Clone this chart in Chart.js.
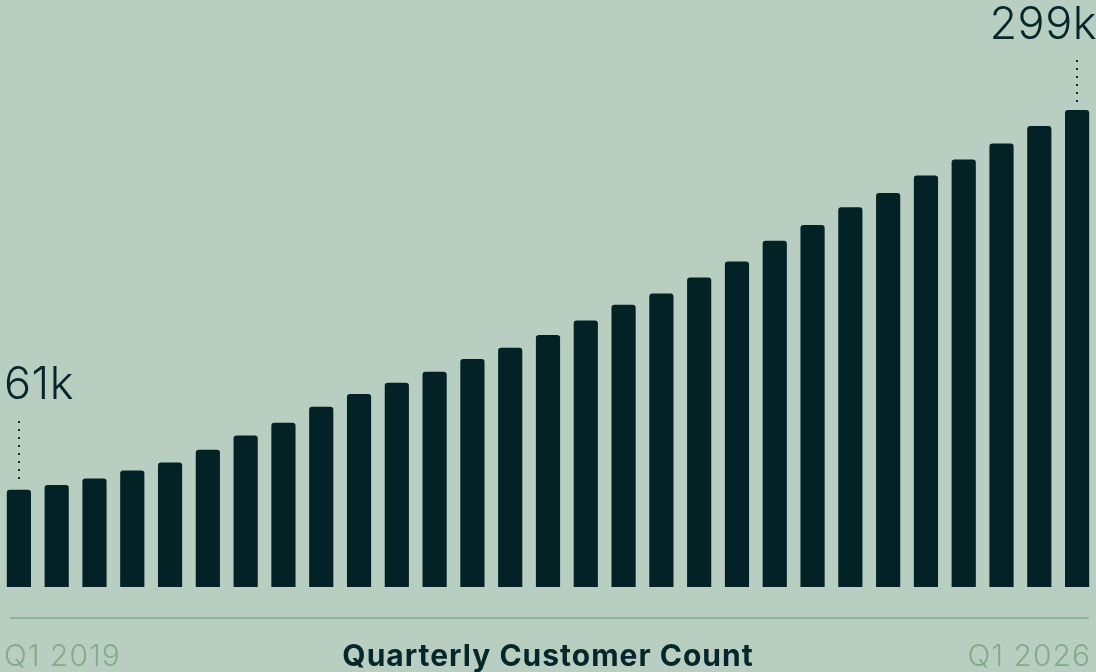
<!DOCTYPE html>
<html>
<head>
<meta charset="utf-8">
<script src="https://cdn.jsdelivr.net/npm/chart.js@4.4.0/dist/chart.umd.min.js"></script>
<style>
    html, body { margin: 0; padding: 0; background: #b8cec0; }
    #wrap { width: 1096px; height: 672px; position: relative; }
</style>
</head>
<body>
<div id="wrap"><canvas id="customerChart"></canvas></div>
<script>
// Quarterly customer counts, Q1 2019 .. Q1 2026
const quarters = [
    'Q1 2019', 'Q2 2019', 'Q3 2019', 'Q4 2019',
    'Q1 2020', 'Q2 2020', 'Q3 2020', 'Q4 2020',
    'Q1 2021', 'Q2 2021', 'Q3 2021', 'Q4 2021',
    'Q1 2022', 'Q2 2022', 'Q3 2022', 'Q4 2022',
    'Q1 2023', 'Q2 2023', 'Q3 2023', 'Q4 2023',
    'Q1 2024', 'Q2 2024', 'Q3 2024', 'Q4 2024',
    'Q1 2025', 'Q2 2025', 'Q3 2025', 'Q4 2025',
    'Q1 2026'
];
const customers = [
    61000, 64000, 68000, 73000, 78000, 86000, 95000, 103000,
    113000, 121000, 128000, 135000, 143000, 150000, 158000, 167000,
    177000, 184000, 194000, 204000, 217000, 227000, 238000, 247000,
    258000, 268000, 278000, 289000, 299000
];
const chartTitle = 'Quarterly Customer Count';

const labelFont = "'Inter', 'Lato', sans-serif";

// axis line, end labels and first/last value callouts
const overlayPlugin = {
    id: 'overlay',
    afterDraw(chart) {
        const ctx = chart.ctx;
        const w = chart.width;
        const bars = chart.getDatasetMeta(0).data;
        ctx.save();

        // baseline rule
        ctx.strokeStyle = '#8db395';
        ctx.lineWidth = 2;
        ctx.beginPath();
        ctx.moveTo(10, 618);
        ctx.lineTo(1089, 618);
        ctx.stroke();

        // bottom labels
        ctx.textBaseline = 'alphabetic';
        ctx.letterSpacing = '1px';
        ctx.font = '300 30px ' + labelFont;
        ctx.fillStyle = '#86a98d';
        ctx.textAlign = 'left';
        ctx.fillText(quarters[0], 4, 666);
        ctx.textAlign = 'right';
        ctx.fillText(quarters[quarters.length - 1], 1091, 666);

        ctx.font = 'bold 30px ' + labelFont;
        ctx.fillStyle = '#06262a';
        ctx.textAlign = 'center';
        ctx.fillText(chartTitle, w / 2, 666);

        // callouts
        const fmt = v => Math.round(v / 1000) + 'k';
        const callout = (i, align, tx, ty, lineTop) => {
            const bar = bars[i];
            ctx.letterSpacing = '0.5px';
            ctx.font = '300 45px ' + labelFont;
            ctx.fillStyle = '#06262a';
            ctx.textAlign = align;
            ctx.fillText(fmt(customers[i]), tx, ty);
            ctx.fillStyle = '#0b2c2e';
            for (let y = lineTop; y < bar.y - 8; y += 8) {
                ctx.fillRect(Math.round(bar.x) - 1, y, 2, 2);
            }
        };
        callout(0, 'left', 4, 399, 421);
        callout(customers.length - 1, 'right', 1097, 39, 60);

        ctx.restore();
    }
};

const ctx = document.getElementById('customerChart').getContext('2d');
const customerChart = new Chart(ctx, {
    type: 'bar',
    data: {
        labels: quarters,
        datasets: [{
            label: 'Customers',
            data: customers,
            backgroundColor: '#022226',
            borderRadius: 3,
            barPercentage: 0.64,
            categoryPercentage: 1.0
        }]
    },
    options: {
        responsive: true,
        maintainAspectRatio: false,
        animation: false,
        layout: {
            padding: { top: 0, bottom: 85, left: 0, right: 0 }
        },
        plugins: {
            legend: { display: false },
            tooltip: { enabled: false }
        },
        scales: {
            x: {
                display: false,
                grid: { display: false }
            },
            y: {
                display: false,
                min: 0,
                max: 368000,
                grid: { display: false }
            }
        }
    },
    plugins: [overlayPlugin]
});
</script>
</body>
</html>
